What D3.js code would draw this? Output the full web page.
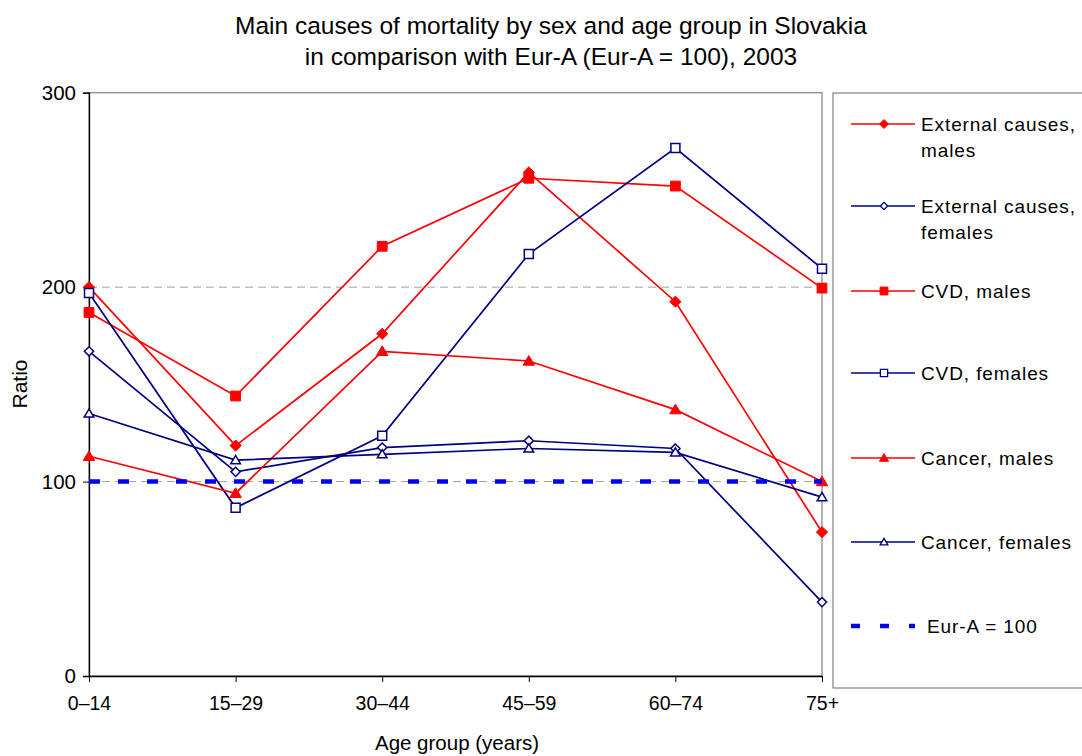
<!DOCTYPE html>
<html><head><meta charset="utf-8">
<script src="https://cdn.jsdelivr.net/npm/d3@7"></script>
<style>
body{margin:0;background:#fff}
text{font-family:"Liberation Sans",Arial,sans-serif;fill:#000}
</style>
</head><body>
<svg id="chart" width="1082" height="756"></svg>
<script>
// Ratio of Slovak mortality to Eur-A (Eur-A = 100), 2003
const ageGroups = ["0–14", "15–29", "30–44", "45–59", "60–74", "75+"];
const externalMales   = [200, 118.5, 176, 259, 192.5, 74];
const externalFemales = [167, 105, 117.5, 121, 117, 38];
const cvdMales        = [187, 144, 221, 256, 252, 199.5];
const cvdFemales      = [197, 86.5, 123.5, 217, 271.5, 209.5];
const cancerMales     = [113, 94, 167, 162, 137, 100];
const cancerFemales   = [135, 111, 114, 117, 115, 92];
const eurA            = [100, 100, 100, 100, 100, 100];
const yTicks = [0, 100, 200, 300];
const gridValues = [100, 200];

const RED = "#ff0000", NAVY = "#000080", BLUE = "#0000ff";

const series = [
  {label: ["External causes,", "males"],   values: externalMales,   color: RED,  shape: "diamond",  filled: true},
  {label: ["External causes,", "females"], values: externalFemales, color: NAVY, shape: "diamond",  filled: false},
  {label: ["CVD, males"],                  values: cvdMales,        color: RED,  shape: "square",   filled: true},
  {label: ["CVD, females"],                values: cvdFemales,      color: NAVY, shape: "square",   filled: false},
  {label: ["Cancer, males"],               values: cancerMales,     color: RED,  shape: "triangle", filled: true},
  {label: ["Cancer, females"],             values: cancerFemales,   color: NAVY, shape: "triangle", filled: false},
  {label: ["Eur-A = 100"],                 values: eurA,            color: BLUE, shape: null,       dashed: true}
];

const svg = d3.select("#chart");
const plot = {left: 89, right: 822, top: 92.7, bottom: 676};

const x = d3.scalePoint().domain(ageGroups).range([plot.left, plot.right]);
const y = d3.scaleLinear().domain([0, 300]).range([plot.bottom, plot.top]);

// marker outlines centred on the point
function markerPath(shape, s) {
  if (shape === "diamond") return `M0,${-s}L${s},0L0,${s}L${-s},0Z`;
  if (shape === "square") return `M${-s},${-s}H${s}V${s}H${-s}Z`;
  if (shape === "triangle") return `M0,${-s*1.05}L${s*1.1},${s*0.8}L${-s*1.1},${s*0.8}Z`;
  return "";
}
function markerSize(d) {
  if (d.shape === "diamond") return d.filled ? 5.6 : 4.6;
  if (d.shape === "square") return d.filled ? 4.9 : 4.5;
  return d.filled ? 5.2 : 4.4;
}

// title
const title = svg.append("g").attr("text-anchor", "middle").style("font-size", "24.5px");
title.append("text").attr("x", 551).attr("y", 34).text("Main causes of mortality by sex and age group in Slovakia");
title.append("text").attr("x", 551).attr("y", 65).text("in comparison with Eur-A (Eur-A = 100), 2003");

// plot area frame
svg.append("rect")
  .attr("x", plot.left).attr("y", plot.top)
  .attr("width", plot.right - plot.left).attr("height", plot.bottom - plot.top)
  .attr("fill", "none").attr("stroke", "#8c8c8c").attr("stroke-width", 1.3);

// dashed grid lines
svg.append("g").selectAll("line").data(gridValues).join("line")
  .attr("x1", plot.left).attr("x2", plot.right)
  .attr("y1", d => y(d)).attr("y2", d => y(d))
  .attr("stroke", "#a0a0a0").attr("stroke-width", 1).attr("stroke-dasharray", "8,5");

// y axis
const yAxis = svg.append("g").attr("transform", `translate(${plot.left},0)`)
  .call(d3.axisLeft(y).tickValues(yTicks).tickSize(6).tickPadding(7).tickFormat(d3.format("d")));
yAxis.select(".domain").attr("stroke", "#000").attr("stroke-width", 1.3);
yAxis.selectAll(".tick line").attr("stroke", "#000");
yAxis.selectAll("text").style("font-size", "20.5px").style("font-family", "Liberation Sans, Arial, sans-serif");

// x axis
const xAxis = svg.append("g").attr("transform", `translate(0,${plot.bottom})`)
  .call(d3.axisBottom(x).tickSize(6).tickSizeOuter(0).tickPadding(14));
xAxis.select(".domain").attr("stroke", "#000").attr("stroke-width", 1.5);
xAxis.selectAll(".tick line").attr("stroke", "#000");
xAxis.selectAll("text").style("font-size", "19.5px").style("font-family", "Liberation Sans, Arial, sans-serif");

// axis titles
svg.append("text").attr("x", 457).attr("y", 750).attr("text-anchor", "middle")
  .style("font-size", "20.5px").text("Age group (years)");
svg.append("text").attr("transform", "translate(27,384) rotate(-90)").attr("text-anchor", "middle")
  .style("font-size", "21px").text("Ratio");

// series lines and markers
const line = d3.line().x((d, i) => x(ageGroups[i])).y(d => y(d));
const seriesG = svg.append("g").selectAll("g").data(series).join("g");
seriesG.append("path")
  .attr("d", d => line(d.values))
  .attr("fill", "none")
  .attr("stroke", d => d.color)
  .attr("stroke-width", d => d.dashed ? 4.5 : 1.7)
  .attr("stroke-dasharray", d => d.dashed ? "11,18" : null);
seriesG.filter(d => d.shape).each(function(d) {
  d3.select(this).selectAll("path.marker").data(d.values).join("path")
    .attr("class", "marker")
    .attr("transform", (v, i) => `translate(${x(ageGroups[i])},${y(v)})`)
    .attr("d", markerPath(d.shape, markerSize(d)))
    .attr("fill", d.filled ? d.color : "#fff")
    .attr("stroke", d.color)
    .attr("stroke-width", d.filled ? 1 : 1.5);
});

// legend
const legendBox = {x: 833, y: 93, w: 260, h: 595};
svg.append("rect").attr("x", legendBox.x).attr("y", legendBox.y)
  .attr("width", legendBox.w).attr("height", legendBox.h)
  .attr("fill", "#fff").attr("stroke", "#8c8c8c").attr("stroke-width", 1.3);

const legendRows = [124, 206, 291, 373, 458, 542, 626];
const leg = svg.append("g").selectAll("g").data(series).join("g")
  .attr("transform", (d, i) => `translate(0,${legendRows[i]})`);
leg.append("line")
  .attr("x1", 851).attr("x2", 915)
  .attr("y1", 0).attr("y2", 0)
  .attr("stroke", d => d.color)
  .attr("stroke-width", d => d.dashed ? 4.5 : 1.5)
  .attr("stroke-dasharray", d => d.dashed ? "9,20" : null);
leg.filter(d => d.shape).append("path")
  .attr("transform", "translate(884,0)")
  .attr("d", d => markerPath(d.shape, markerSize(d) * 0.8))
  .attr("fill", d => d.filled ? d.color : "#fff")
  .attr("stroke", d => d.color)
  .attr("stroke-width", d => d.filled ? 1 : 1.3);
leg.append("text")
  .attr("x", d => d.dashed ? 927 : 921)
  .attr("y", 7)
  .style("font-size", "19px").style("letter-spacing", "0.9px")
  .selectAll("tspan").data(d => d.label).join("tspan")
  .attr("x", function() { return d3.select(this.parentNode).attr("x"); })
  .attr("dy", (t, i) => i ? 26 : 0)
  .text(t => t);
</script>
</body></html>
